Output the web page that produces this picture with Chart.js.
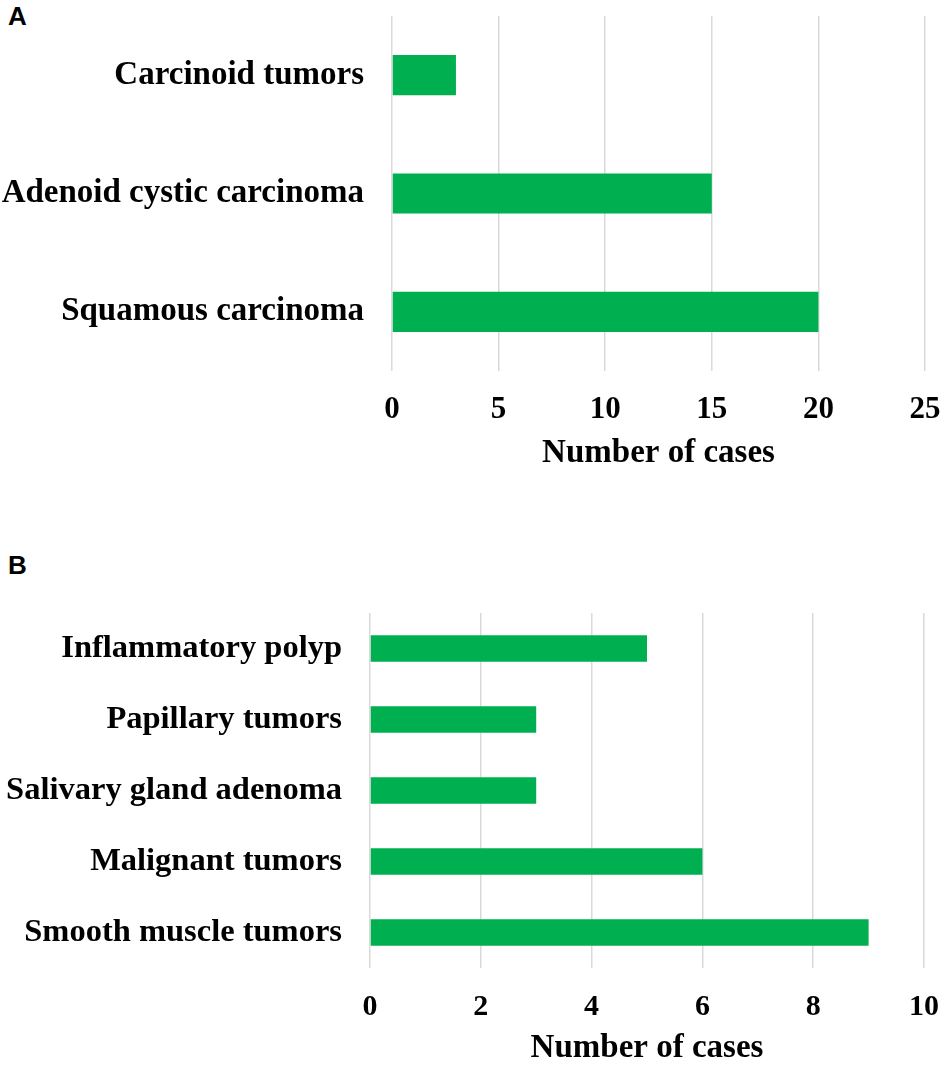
<!DOCTYPE html>
<html>
<head>
<meta charset="utf-8">
<script src="https://cdn.jsdelivr.net/npm/chart.js@4.4.1/dist/chart.umd.min.js"></script>
<style>
  body { margin: 0; background: #fff; }
  #wrap { position: relative; width: 945px; height: 1069px; }
  .panel { position: absolute; left: 8px; font: bold 26px "Liberation Sans", Arial, sans-serif; line-height: 26px; color: #000; }
  canvas { position: absolute; left: 0; }
</style>
</head>
<body>
<div id="wrap">
  <div class="panel" style="top:3px">A</div>
  <canvas id="chartA" width="945" height="490" style="top:0"></canvas>
  <div class="panel" style="top:552px">B</div>
  <canvas id="chartB" width="945" height="529" style="top:540px"></canvas>
</div>
<script>
// panel A
const labelsA = ['Carcinoid tumors', 'Adenoid cystic carcinoma', 'Squamous carcinoma'];
const casesA = [3, 15, 20];
const ticksA = { min: 0, max: 25, step: 5 };

// panel B
const labelsB = ['Inflammatory polyp', 'Papillary tumors', 'Salivary gland adenoma', 'Malignant tumors', 'Smooth muscle tumors'];
const casesB = [5, 3, 3, 6, 9];
const ticksB = { min: 0, max: 10, step: 2 };

const serif = '"Liberation Serif", "Times New Roman", serif';
const green = '#00b050';
const grid = '#d9d9d9';

function makeChart(id, labels, values, range, o) {
    const ctx = document.getElementById(id).getContext('2d');
    return new Chart(ctx, {
        type: 'bar',
        data: {
            labels: labels,
            datasets: [{
                data: values,
                backgroundColor: green,
                borderWidth: 0,
                categoryPercentage: 1,
                barPercentage: o.barPct,
            }]
        },
        options: {
            indexAxis: 'y',
            responsive: false,
            animation: false,
            layout: { padding: { top: o.top, right: o.right, left: 0, bottom: 0 } },
            plugins: { legend: { display: false }, tooltip: { enabled: false } },
            scales: {
                x: {
                    min: range.min,
                    max: range.max,
                    border: { display: false },
                    grid: { color: grid, lineWidth: 1.5, drawTicks: false },
                    ticks: {
                        stepSize: range.step,
                        padding: o.tickPad,
                        color: '#000',
                        font: { family: serif, weight: 'bold', size: o.tickSize },
                    },
                    title: {
                        display: true,
                        text: 'Number of cases',
                        color: '#000',
                        padding: { top: 0, bottom: o.titlePad },
                        font: { family: serif, weight: 'bold', size: 33 },
                    },
                    afterFit: function (scale) {
                        // fixed axis height, no extra room for edge labels
                        scale.height = o.xHeight;
                        scale.paddingLeft = 0;
                        scale.paddingRight = 0;
                    },
                },
                y: {
                    border: { display: false },
                    grid: { display: false, drawTicks: false },
                    ticks: {
                        padding: 28,
                        color: '#000',
                        font: { family: serif, weight: 'bold', size: o.labelSize },
                    },
                    afterFit: function (scale) {
                        scale.width = o.yWidth;
                        scale.paddingTop = 0;
                        scale.paddingBottom = 0;
                    },
                },
            },
        },
    });
}

makeChart('chartA', labelsA, casesA, ticksA, {
    barPct: 0.34, top: 16, right: 20, yWidth: 392, xHeight: 119,
    tickPad: 20, tickSize: 31, titlePad: 17, labelSize: 33,
});
makeChart('chartB', labelsB, casesB, ticksB, {
    barPct: 0.37, top: 73, right: 21, yWidth: 370, xHeight: 101,
    tickPad: 21, tickSize: 30, titlePad: 1, labelSize: 32.5,
});
</script>
</body>
</html>
